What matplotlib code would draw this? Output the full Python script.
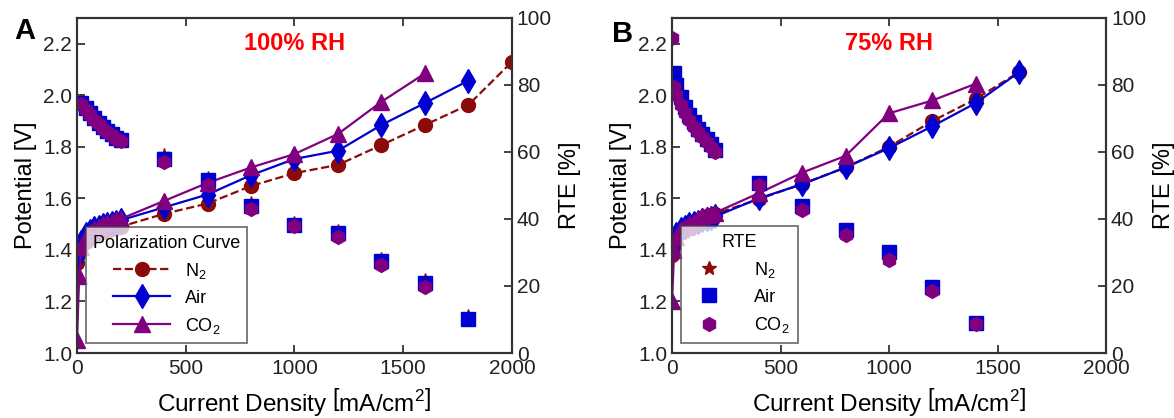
import numpy as np
import matplotlib
matplotlib.use("Agg")
import matplotlib.pyplot as plt
from matplotlib.lines import Line2D

plt.rcParams['font.family'] = ['Liberation Sans', 'DejaVu Sans']
plt.rcParams['mathtext.fontset'] = 'custom'
plt.rcParams['mathtext.rm'] = 'Liberation Sans'
plt.rcParams['mathtext.it'] = 'Liberation Sans:italic'

# current densities [mA/cm2]
cur = [0, 10, 20, 40, 60, 80, 100, 120, 140, 160, 180, 200,
       400, 600, 800, 1000, 1200, 1400, 1600, 1800, 2000]
nan = np.nan

# panel A, 100% RH, polarization [V]
a_n2 = [1.35, 1.39, 1.41, 1.43, 1.445, 1.455, 1.465, 1.47, 1.475, 1.48, 1.485, 1.49,
        1.54, 1.58, 1.648, 1.698, 1.73, 1.807, 1.885, 1.963, 2.13]
a_air = [1.37, 1.40, 1.43, 1.46, 1.475, 1.485, 1.49, 1.495, 1.50, 1.505, 1.51, 1.515,
         1.565, 1.615, 1.69, 1.753, 1.785, 1.885, 1.97, 2.057, nan]
a_co2 = [1.05, 1.30, 1.41, 1.45, 1.47, 1.48, 1.49, 1.50, 1.505, 1.51, 1.515, 1.52,
         1.59, 1.66, 1.72, 1.772, 1.85, 1.975, 2.085, nan, nan]
# panel A, RTE [%]
a_rte_n2 = [nan, nan, 75.5, 74, 72.5, 71, 69.7, 68.5, 67.3, 66.3, 65.3, 64.5,
            59.5, 52.5, 45, 39.2, 36.8, 28.5, 22, 11.2, nan]
a_rte_air = [nan, nan, 74.6, 73, 71.5, 70, 68.7, 67.5, 66.3, 65.3, 64.3, 63.5,
             58, 51.6, 44, 38.2, 35.8, 27.5, 21, 10.1, nan]
a_rte_co2 = [nan, nan, 74.2, 72.6, 71, 69.6, 68.3, 67, 66, 65, 64, 63.2,
             57, 50, 43, 38, 34.6, 26.3, 19.7, nan, nan]

# panel B, 75% RH, polarization [V]
b_n2 = [1.38, 1.42, 1.45, 1.47, 1.48, 1.49, 1.50, 1.51, 1.52, 1.53, 1.535, 1.54,
        1.597, 1.656, 1.72, 1.80, 1.90, 1.986, 2.09, nan, nan]
b_air = [1.40, 1.44, 1.46, 1.48, 1.49, 1.50, 1.505, 1.51, 1.515, 1.52, 1.525, 1.53,
         1.60, 1.655, 1.72, 1.795, 1.88, 1.97, 2.09, nan, nan]
b_co2 = [1.20, 1.40, 1.45, 1.48, 1.49, 1.50, 1.51, 1.52, 1.53, 1.535, 1.54, 1.545,
         1.62, 1.70, 1.765, 1.93, 1.98, 2.045, nan, nan, nan]
# panel B, RTE [%]
b_rte_n2 = [nan, 83, 79.5, 76, 73, 70.5, 68.5, 66.8, 65.3, 63.8, 62.3, 60.4,
            50.5, 43.8, 36.5, 29.8, 19.5, 8.8, nan, nan, nan]
b_rte_air = [nan, 83.5, 80, 76.5, 73.5, 71, 69, 67, 65.5, 64, 62.5, 60.6,
             50.7, 44, 36.7, 30, 19.7, 9, nan, nan, nan]
b_rte_co2 = [94, 79.5, 77, 74, 71.5, 69.5, 67.5, 66, 64.5, 63, 61.5, 60,
             50, 42.7, 35.2, 27.8, 18.5, 8.7, nan, nan, nan]

c_n2 = '#8b0a0a'
c_air = '#0000d0'
c_co2 = '#800080'

fig = plt.figure(figsize=(11.74, 4.18), dpi=100)
axA = fig.add_axes([0.0656, 0.1555, 0.3705, 0.8015])
axB = fig.add_axes([0.5724, 0.1555, 0.3697, 0.8015])


def style_axes(ax, ax2):
    ax.set_xlim(0, 2000)
    ax.set_ylim(1.0, 2.3)
    ax.set_xticks([0, 500, 1000, 1500, 2000])
    ax.set_yticks([1.0, 1.2, 1.4, 1.6, 1.8, 2.0, 2.2])
    ax.yaxis.set_major_formatter(plt.FormatStrFormatter('%.1f'))
    ax2.set_ylim(0, 100)
    ax2.set_yticks([0, 20, 40, 60, 80, 100])
    for a in (ax, ax2):
        a.tick_params(direction='in', length=6, width=1.2, labelsize=15,
                      colors='#222222', top=True)
        for s in a.spines.values():
            s.set_linewidth(1.5)
            s.set_color('#333333')
    ax.tick_params(axis='x', pad=4)
    ax.set_xlabel(r'Current Density $\left[\mathrm{mA/cm^2}\right]$', fontsize=17.5, labelpad=6)
    ax.set_ylabel('Potential [V]', fontsize=17, labelpad=4)
    ax2.set_ylabel('RTE [%]', fontsize=17, labelpad=5)


def draw_panel(ax, n2, air, co2, r_n2, r_air, r_co2):
    x = np.array(cur)
    for y, col, ls, mk, ms in [(n2, c_n2, '--', 'o', 10),
                               (air, c_air, '-', 'd', 12),
                               (co2, c_co2, '-', '^', 11)]:
        y = np.array(y)
        ok = ~np.isnan(y)
        ax.plot(x[ok], y[ok], ls, color=col, marker=mk, markersize=ms, lw=1.6)
    ax2 = ax.twinx()
    for y, col, mk, ms in [(r_n2, c_n2, '*', 9),
                           (r_air, c_air, 's', 9.5),
                           (r_co2, c_co2, 'h', 10)]:
        ax2.plot(x, y, linestyle='none', color=col, marker=mk, markersize=ms)
    return ax2


ax2A = draw_panel(axA, a_n2, a_air, a_co2, a_rte_n2, a_rte_air, a_rte_co2)
ax2B = draw_panel(axB, b_n2, b_air, b_co2, b_rte_n2, b_rte_air, b_rte_co2)
style_axes(axA, ax2A)
style_axes(axB, ax2B)

# legends
pol_handles = [Line2D([], [], color=c_n2, ls='--', marker='o', ms=10, lw=1.6),
               Line2D([], [], color=c_air, ls='-', marker='d', ms=12, lw=1.6),
               Line2D([], [], color=c_co2, ls='-', marker='^', ms=11, lw=1.6)]
labels = ['N$_2$', 'Air', 'CO$_2$']
legA = ax2A.legend(pol_handles, labels, title='Polarization Curve', loc='lower left',
                   bbox_to_anchor=(0.02, 0.03), borderaxespad=0, fontsize=13,
                   title_fontsize=13, handlelength=3.2, fancybox=False,
                   edgecolor='#444444', framealpha=0.75, borderpad=0.4, labelspacing=0.5)
legA.get_frame().set_linewidth(1.3)

rte_handles = [Line2D([], [], color=c_n2, ls='none', marker='*', ms=10),
               Line2D([], [], color=c_air, ls='none', marker='s', ms=10),
               Line2D([], [], color=c_co2, ls='none', marker='h', ms=10)]
legB = ax2B.legend(rte_handles, labels, title='RTE', loc='lower left',
                   bbox_to_anchor=(0.02, 0.03), borderaxespad=0, fontsize=13,
                   title_fontsize=13, handlelength=2.2, fancybox=False,
                   edgecolor='#444444', framealpha=0.75, borderpad=0.45,
                   labelspacing=0.5, handletextpad=1.4)
legB.get_frame().set_linewidth(1.3)

axA.text(0.5, 0.925, '100% RH', transform=axA.transAxes, color='#ff0000',
         fontsize=17, fontweight='bold', ha='center', va='center')
axB.text(0.5, 0.925, '75% RH', transform=axB.transAxes, color='#ff0000',
         fontsize=17, fontweight='bold', ha='center', va='center')
fig.text(0.012, 0.925, 'A', fontsize=21, fontweight='bold', va='center')
fig.text(0.521, 0.918, 'B', fontsize=21, fontweight='bold', va='center')

fig.savefig('out.png', dpi=100)
